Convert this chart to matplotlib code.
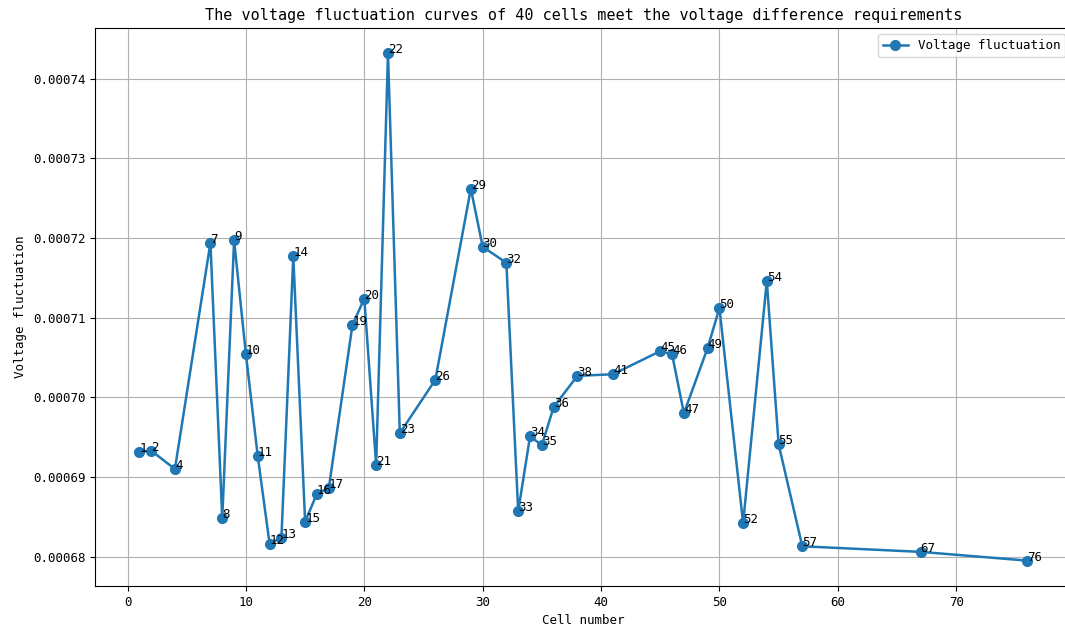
import matplotlib
matplotlib.use('Agg')
import matplotlib.pyplot as plt

plt.rcParams['font.family'] = ['DejaVu Sans Mono']
plt.rcParams['axes.unicode_minus'] = False

cells = [1, 2, 4, 7, 8, 9, 10, 11, 12, 13,
         14, 15, 16, 17, 19, 20, 21, 22, 23, 26,
         29, 30, 32, 33, 34, 35, 36, 38, 41, 45,
         46, 47, 49, 50, 52, 54, 55, 57, 67, 76]

fluct = [0.0006932, 0.0006933, 0.0006910, 0.0007194, 0.0006848, 0.0007197, 0.0007054, 0.0006926, 0.0006816, 0.0006824,
         0.0007177, 0.0006844, 0.0006879, 0.0006886, 0.0007091, 0.0007124, 0.0006915, 0.0007432, 0.0006955, 0.0007022,
         0.0007262, 0.0007189, 0.0007169, 0.0006857, 0.0006951, 0.0006940, 0.0006988, 0.0007027, 0.0007029, 0.0007058,
         0.0007054, 0.0006980, 0.0007062, 0.0007112, 0.0006842, 0.0007146, 0.0006941, 0.0006813, 0.0006806, 0.0006795]

fig = plt.figure(figsize=(10.65, 6.32), dpi=100)
# axes run slightly past the right edge, as in the (cropped) original
ax = fig.add_axes([0.0892, 0.0728, 0.917, 0.883])

ax.plot(cells, fluct, marker='o', markersize=7, linewidth=1.8,
        color='#1f77b4', label='Voltage fluctuation')

# cell number next to each point
for c, v in zip(cells, fluct):
    ax.text(c, v, str(c), fontsize=9)

ax.set_title('The voltage fluctuation curves of 40 cells meet the voltage difference requirements',
             fontsize=10.9)
ax.set_xlabel('Cell number', fontsize=9)
ax.set_ylabel('Voltage fluctuation', fontsize=9)
ax.tick_params(labelsize=9)
ax.grid(True)
ax.legend(loc='upper right', fontsize=9)

fig.savefig('out.png', dpi=100)
